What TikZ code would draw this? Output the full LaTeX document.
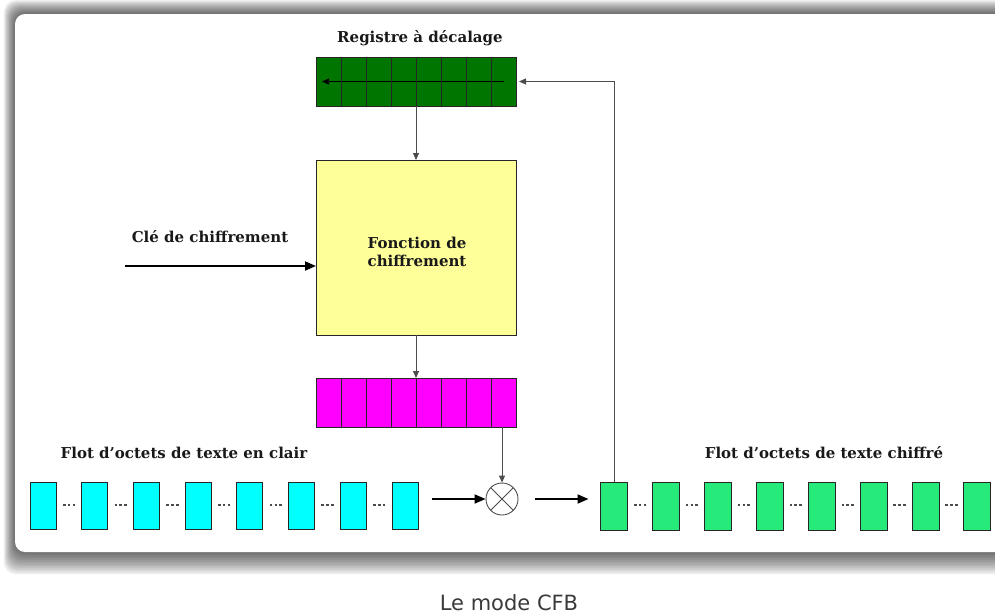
\documentclass[tikz,border=0pt]{standalone}
\usepackage{fontspec}
\setmainfont{DejaVu Serif}
\newfontfamily\capfont{DejaVu Sans}
\usetikzlibrary{arrows.meta,calc}
\definecolor{regGreen}{RGB}{0,118,0}
\definecolor{fnYellow}{RGB}{255,255,153}
\definecolor{outMagenta}{RGB}{255,0,255}
\definecolor{plainCyan}{RGB}{0,255,255}
\definecolor{cipherGreen}{RGB}{38,235,123}
\definecolor{captionGray}{RGB}{58,58,58}
\begin{document}
\begin{tikzpicture}[x=1pt,y=-1pt,
  regbox/.style={draw=black!85,line width=0.8pt,minimum width=200pt,minimum height=49pt,inner sep=0pt,outer sep=0pt},
  bytebox/.style={draw=black!85,line width=0.8pt,minimum width=26pt,minimum height=47pt,inner sep=0pt,outer sep=0pt},
  fnbox/.style={draw=black!85,line width=0.8pt,fill=fnYellow,minimum width=200pt,minimum height=175pt,inner sep=0pt,outer sep=0pt,align=center},
  lbl/.style={font=\bfseries\fontsize{15}{18}\selectfont,text=black!90,inner sep=0pt},
  gapdots/.pic={\foreach \d in {-4.8,0,4.8} \fill[black!70] ({\d-1.3},-1.3) rectangle ({\d+1.3},1.3);},
  thin/.style={draw=black!70,line width=1pt,-{Triangle[length=7pt,width=6pt]}},
  thick/.style={draw=black,line width=1.8pt,-{Triangle[length=11pt,width=9pt]}}]
\useasboundingbox (0,0) rectangle (995,614);
\clip (0,0) rectangle (995,614);

% soft shadow around the panel
\foreach \i in {1,...,14}
  \fill[black,opacity=0.055,rounded corners=12] ({15-0.8*\i},{14-\i}) rectangle (1012,{552+1.6*\i});
\fill[white,rounded corners=10] (15,14) rectangle (1012,552);

% shift register
\node[lbl] (regtitle) at (420,38) {Registre à décalage};
\node[regbox,fill=regGreen] (reg) at (416,81.5) {};
\foreach \k in {1,...,7}
  \draw[black!85,line width=0.8pt] ($(reg.north west)+(25*\k,0)$) -- ($(reg.south west)+(25*\k,0)$);
\draw[black,line width=1.2pt,-{Triangle[length=7pt,width=6pt]}] ($(reg.east)+(-12,0)$) -- ($(reg.west)+(6,0)$);

% block cipher
\node[fnbox] (fn) at (416,247.5) {};
\node[lbl,align=center] (fntext) at (417,252) {Fonction de\\chiffrement};
\draw[thin] (reg.south) -- (fn.north);

% key input
\node[lbl] (keylbl) at (210,237) {Clé de chiffrement};
\coordinate (keystart) at (125,266);
\draw[thick] (keystart) -- (keystart -| fn.west);

% cipher output register
\node[regbox,fill=outMagenta] (mag) at (416,402.5) {};
\foreach \k in {1,...,7}
  \draw[black!85,line width=0.8pt] ($(mag.north west)+(25*\k,0)$) -- ($(mag.south west)+(25*\k,0)$);
\draw[thin] (fn.south) -- (mag.north);

% XOR
\node[draw=black!70,line width=0.9pt,circle,minimum size=32pt,inner sep=0pt] (xor) at (502,499) {};
\draw[black!70,line width=0.9pt] ($(xor.center)+(-11.3,-11.3)$) -- ($(xor.center)+(11.3,11.3)$);
\draw[black!70,line width=0.9pt] ($(xor.center)+(-11.3,11.3)$) -- ($(xor.center)+(11.3,-11.3)$);
\draw[thin] (mag.south -| xor.north) -- (xor.north);

% plaintext byte stream
\node[lbl] (plainlbl) at (184,453) {Flot d'octets de texte en clair};
\foreach \i in {0,...,7}
  \node[bytebox,fill=plainCyan] (c\i) at ({43+51.7*\i},505.5) {};
\foreach \i in {0,...,6}
  \pic at ({69+51.7*\i},505) {gapdots};

% ciphertext byte stream
\node[lbl] (cipherlbl) at (824,453) {Flot d'octets de texte chiffré};
\foreach \i in {0,...,7}
  \node[bytebox,fill=cipherGreen,minimum width=27pt,minimum height=48pt] (g\i) at ({614+51.9*\i},506) {};
\foreach \i in {0,...,6}
  \pic at ({640+51.9*\i},505) {gapdots};

% data flow through the XOR
\draw[thick] ($(c7.east |- xor.west)+(14,0)$) -- (xor.west);
\draw[thick] ($(xor.east)+(17,0)$) -- ($(g0.west |- xor.east)+(-12,0)$);

% feedback of the ciphertext into the register
\draw[black!70,line width=1pt,-{Triangle[length=7pt,width=6pt]}] (g0.north) |- ([xshift=3pt]reg.east);

% caption
\node[font=\capfont\fontsize{21}{24}\selectfont,text=captionGray,inner sep=0pt] (caption) at (509,603) {Le mode CFB};
\end{tikzpicture}
\end{document}
